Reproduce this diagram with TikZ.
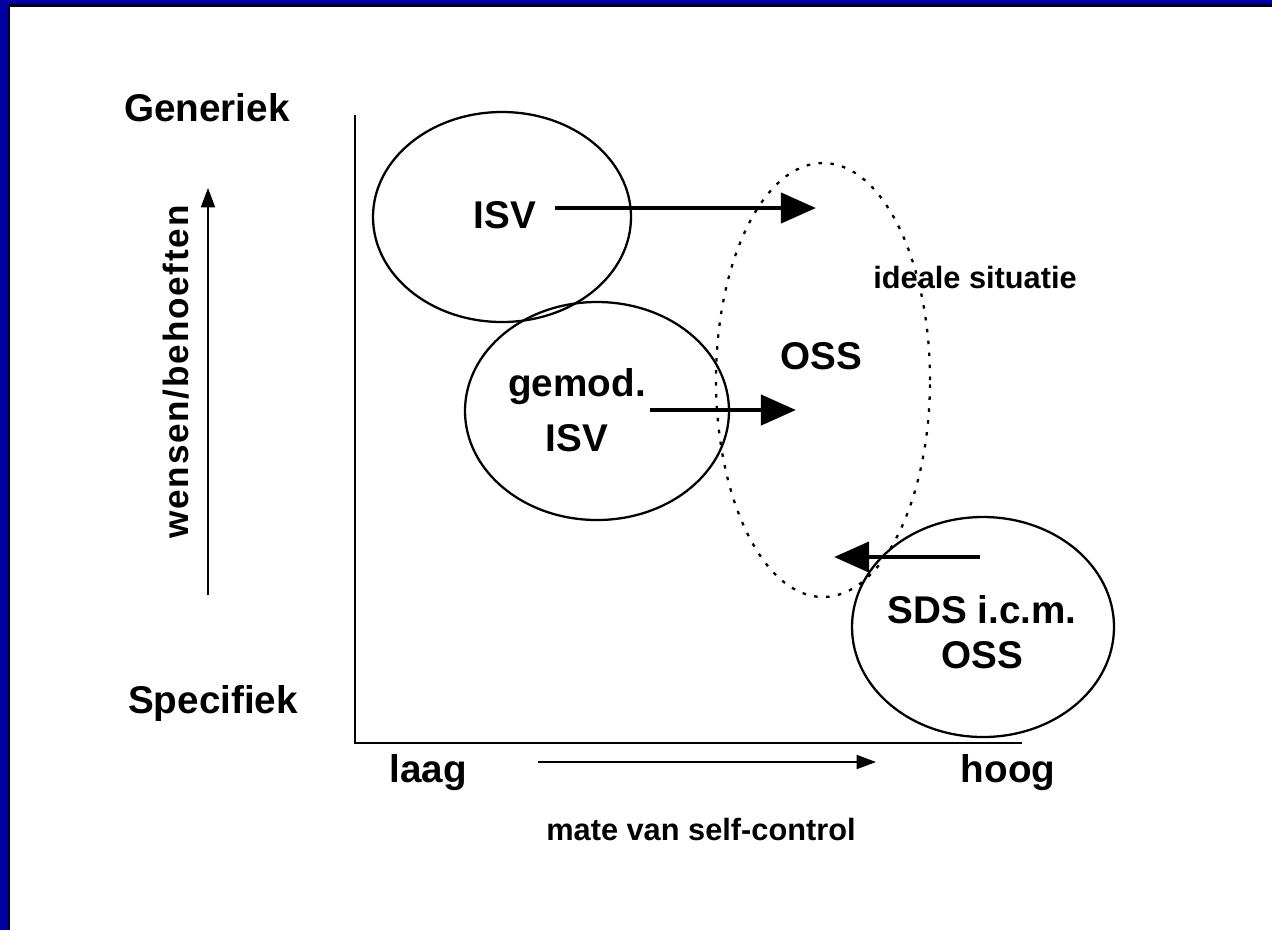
\documentclass[tikz,border=0pt]{standalone}
\usepackage{fontspec}
\setmainfont{Liberation Sans}
\usetikzlibrary{arrows.meta}

\definecolor{rimblue}{RGB}{0,0,160}

\tikzset{
  big/.style={font=\bfseries\fontsize{22}{31}\selectfont, align=center},
  small/.style={font=\bfseries\fontsize{17.5}{21}\selectfont},
  axis/.style={line width=1.2pt},
  thinarrow/.style={line width=0.9pt, -{Triangle[length=11pt,width=8pt]}},
  fatarrow/.style={line width=2.8pt, -{Triangle[length=20pt,width=17pt]}},
  blob/.style={line width=1.3pt},
  ideal/.style={line width=1.3pt, dash pattern=on 2pt off 4.8pt}
}

\begin{document}
\begin{tikzpicture}[x=0.2mm,y=-0.2mm]
%\draw[help lines] (0,0) grid (1272,930);
\useasboundingbox (0,0) rectangle (1272,930);

% frame of the slide
\fill[rimblue] (0,0) rectangle (1272,4);
\fill[rimblue] (0,0) rectangle (8,930);
\fill[black] (8,4) rectangle (1272,7);
\fill[black] (8,4) rectangle (10,930);

% axes
\coordinate (top) at (355,115);
\coordinate (origin) at (355,743);
\coordinate (right) at (1022,743);
\draw[axis] (top) -- (origin) -- (right);

\node[big] at (207,108) (gen) {Generiek};
\node[big] at (213,703) (spec) {Specifiek};
\node[big] at (428,773) (laag) {laag};
\node[big] at (1008,773) (hoog) {hoog};
\node[small] at (701,829) (mate) {mate van self-control};
\node[rotate=90,font=\bfseries\fontsize{20}{24}\selectfont\addfontfeatures{LetterSpace=5}] at (176,372) (wens) {wensen/behoeften};

\coordinate (upA) at (208,595);
\coordinate (upB) at (208,188);
\draw[thinarrow] (upA) -- (upB);
\coordinate (rightA) at (538,762);
\coordinate (rightB) at (876,762);
\draw[thinarrow] (rightA) -- (rightB);

% the groups
\draw[blob] (502,217) ellipse [x radius=25.8mm, y radius=21mm];
\draw[blob] (597,411) ellipse [x radius=26.4mm, y radius=21.8mm];
\draw[ideal] (823,380) ellipse [x radius=21.4mm, y radius=43.4mm];
\draw[blob] (983,627) ellipse [x radius=26.2mm, y radius=22mm];

\node[big] at (505,215) (isv) {ISV};
\node[big] at (577,410) (gemod) {gemod.\\ISV};
\node[big] at (821,356) (oss) {OSS};
\node[small] at (975,277) (ideaal) {ideale situatie};
\node[big,font=\bfseries\fontsize{22}{25.5}\selectfont] at (982,632) (sds) {SDS i.c.m.\\OSS};

% shifts
\coordinate (isvA) at (555,208);
\coordinate (isvB) at (816,208);
\draw[fatarrow] (isvA) -- (isvB);
\coordinate (gemA) at (650,410);
\coordinate (gemB) at (796,410);
\draw[fatarrow] (gemA) -- (gemB);
\coordinate (sdsA) at (980,557);
\coordinate (sdsB) at (834,557);
\draw[fatarrow] (sdsA) -- (sdsB);

\end{tikzpicture}
\end{document}
